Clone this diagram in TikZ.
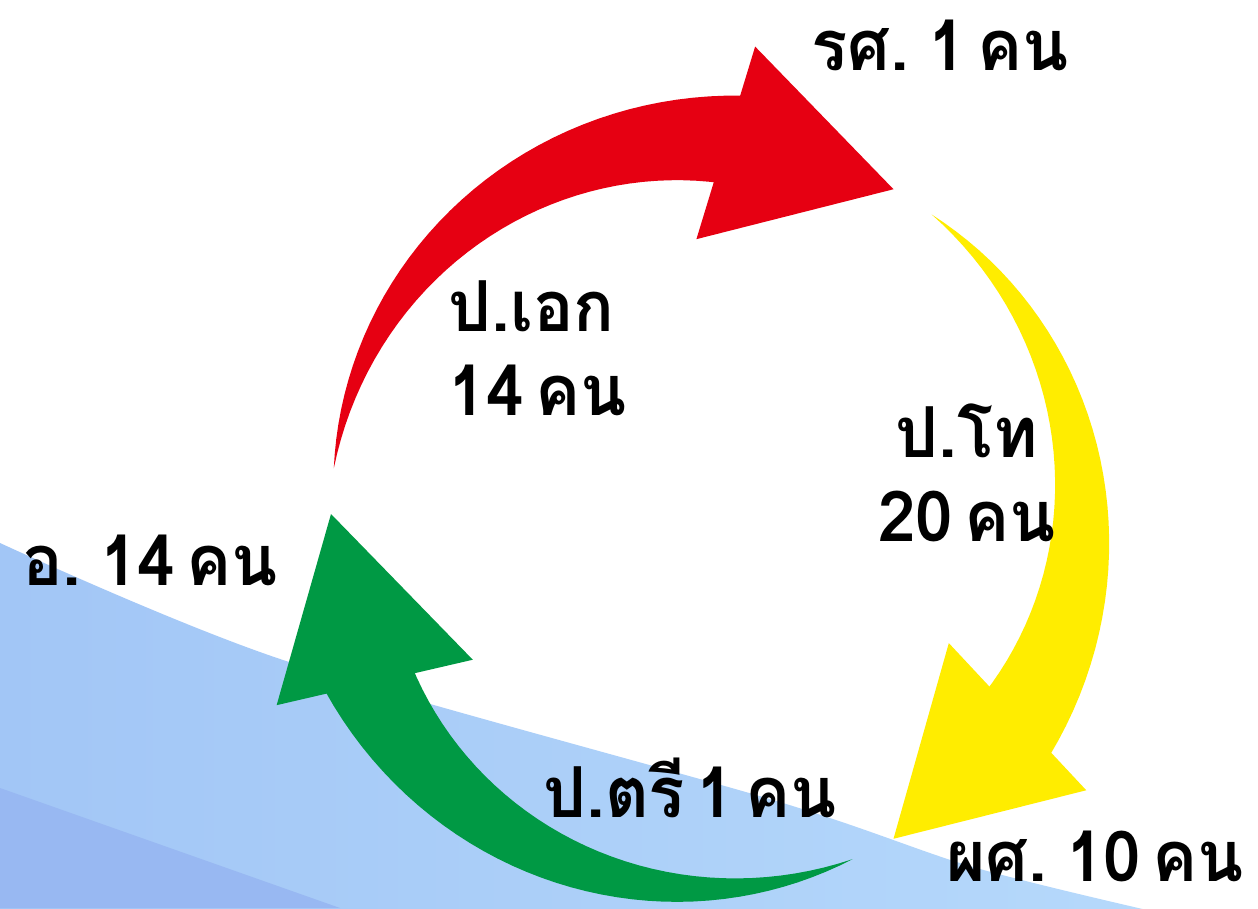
\documentclass[tikz,border=0pt]{standalone}
\usepackage{fontspec}
\newfontfamily\thaifont[Script=Thai, WordSpace=0.5, FakeStretch=0.96]{Loma}
\definecolor{ringred}{RGB}{230,0,18}
\definecolor{ringyellow}{RGB}{255,237,0}
\definecolor{ringgreen}{RGB}{0,153,68}
\definecolor{bandleft}{RGB}{162,198,246}
\definecolor{bandright}{RGB}{182,217,251}
\definecolor{banddeep}{RGB}{152,184,242}
\tikzset{
	count/.style={font=\thaifont\bfseries\fontsize{20}{24}\selectfont, inner sep=0pt},
}
% tapered arrow round the ring: #1 = angle of the tail, #2 = colour
\newcommand{\ringarrow}[2]{%
	\fill[#2] (#1:375) -- plot[domain=0:1,samples=40] ({#1-88*\x}:{375+45*\x})
		-- plot[domain=1:0,samples=40] ({#1-88*\x}:{375-45*\x}) -- cycle;
	\fill[#2] ({#1-81}:275) -- ({#1-89}:470) -- ({#1-113}:375) -- cycle;
}
\begin{document}
\begin{tikzpicture}[x=0.1mm,y=0.1mm]

	\useasboundingbox (0,0) rectangle (1258,908);
	\fill[white] (0,0) rectangle (1258,908);
	\shade[left color=bandleft, right color=bandright] plot[smooth] coordinates {(0,365) (283,248) (773,108) (973,41) (1160,-5)} -- (0,-5) -- cycle;
	\fill[banddeep] (0,120) -- (340,0) -- (0,0) -- cycle;

	\begin{scope}[shift={(706,394)}]
		\ringarrow{173}{ringred}
		\ringarrow{53}{ringyellow}
		\ringarrow{-67}{ringgreen}
	\end{scope}

	\node[count] (rs) at (940,863) {รศ. 1 คน};
	\node[count, align=left, anchor=west] (phd) at (448,560) {ป.เอก\\14 คน};
	\node[count, align=center] (master) at (967,435) {ป.โท\\20 คน};
	\node[count] (lecturer) at (150,348) {อ. 14 คน};
	\node[count] (bachelor) at (690,120) {ป.ตรี 1 คน};
	\node[count] (asst) at (1095,52) {ผศ. 10 คน};
\end{tikzpicture}
\end{document}
